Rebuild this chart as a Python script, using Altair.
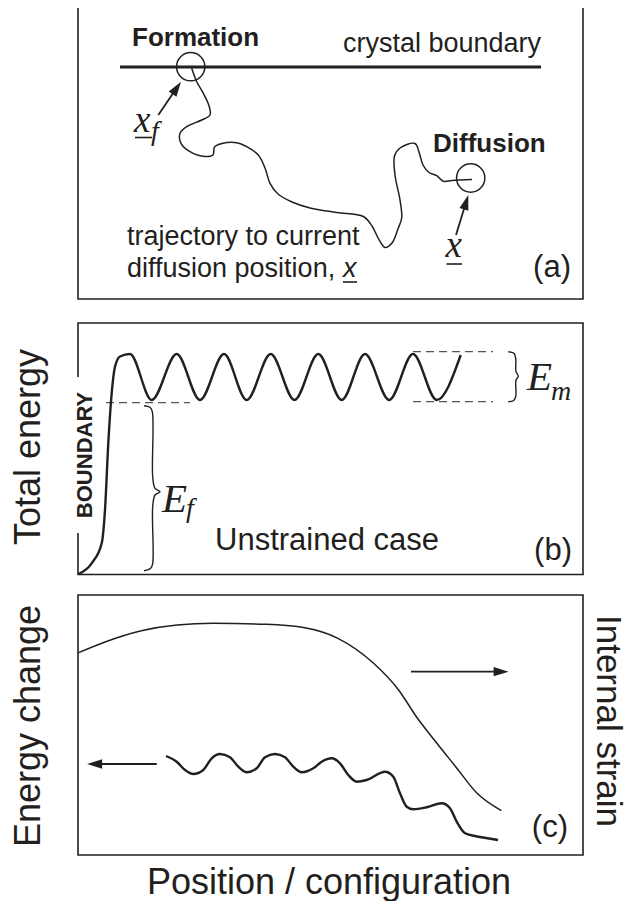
import math
import altair as alt
import pandas as pd

INK = "#231f20"

# ---------------- data (page-pixel coordinates) -------------
# panel frames (a), (b), (c)
box_x0 = [78, 78, 78]
box_x1 = [583, 583, 583]
box_y0 = [5.5, 323, 595]
box_y1 = [299, 574.5, 855]

# (a) crystal boundary line
bound_x = [120]
bound_x2 = [541]
bound_y = [67]

# (a) diffusion trajectory
traj_x = [191.7, 196.7, 203.3, 209.3, 210, 201.7, 186.7, 180, 181, 190, 205, 213, 214.5,
          222, 236.7, 246.7, 258.3, 265, 270, 278, 292, 310, 336.7, 363.3, 372, 378.3,
          385, 392, 398.3, 401.7, 400, 395, 394.5, 400, 415, 419.3, 423, 429, 436.7,
          443.3, 452, 472]
traj_y = [68.3, 81.7, 93.3, 106.7, 115, 120, 126.7, 133.3, 143.3, 151.7, 156.5, 155, 147,
          143.5, 142.7, 146.7, 155, 168, 183.3, 194, 202, 208, 212.5, 216.5, 226, 238.3,
          247.5, 243, 228, 218, 200, 175, 156, 148, 143.5, 153, 165, 172.5, 175.7,
          181.2, 180.5, 179.5]

# (a) circles at formation / diffusion sites
circ_x = [190.7, 470.7]
circ_y = [66.7, 178]

# arrows: (a) x_f, (a) x, (c) right, (c) left
arrow_tail_x = [158.3, 456, 411, 156.8]
arrow_tail_y = [115, 235, 671.7, 764]
arrow_tip_x = [181, 468.3, 508.6, 87.1]
arrow_tip_y = [81.7, 195, 671.7, 764]

# (b) total energy along the path
energy_x = [78.5, 91.7, 101.7, 105, 108.3, 111.7, 115, 120, 130, 151.7, 176.7, 200, 224,
            246.7, 270.7, 294.5, 318.3, 341.7, 365, 389.2, 413, 436.7, 460.7]
energy_y = [574, 563.3, 543.3, 510, 443, 393, 366.7, 356.5, 354, 400, 354, 400, 354,
            400, 354, 400, 354, 400, 354, 400, 354, 400, 355]

# (b) dashed reference levels
dash_x = [106, 413, 413]
dash_x2 = [190, 493, 493]
dash_y = [402.7, 351.7, 401.7]

# (b) braces  E_f and E_m
ef_brace_x = [144, 150, 152.3, 152.7, 155, 160, 155, 152.7, 152.7, 150.7, 144]
ef_brace_y = [405.7, 407.3, 411.7, 476.7, 488.3, 491.7, 495, 506.7, 563.3, 568.3, 570.7]
em_brace_x = [508.3, 514, 515.7, 516, 518.3, 516, 515.7, 513.3, 508.3]
em_brace_y = [351.7, 353.3, 358.3, 371.7, 376.3, 380, 396.7, 400.7, 401.7]

# (c) internal strain
strain_x = [78.5, 105.7, 141.4, 177.1, 212.9, 266.4, 302.1, 337.9, 373.6, 398.6, 416.4,
            434.3, 455.7, 477.1, 501.4]
strain_y = [652.7, 641.7, 630.7, 625, 623.3, 624.3, 627.3, 638.3, 663.3, 690, 716.7,
            740, 766.7, 793.3, 810.7]

# (c) energy change
change_x = [166, 176.7, 185, 193.3, 203.3, 211.7, 220, 230, 238.3, 246.7, 256.7, 265, 275,
            285, 293.3, 301.7, 313.3, 321.7, 331.7, 340, 348.3, 356.7, 366.7, 385, 393.3,
            400, 406.7, 413.3, 426.7, 441.7, 450, 456.7, 465, 475, 486, 498]
change_y = [756, 761.7, 770, 774, 770, 758.3, 754, 757.3, 766.7, 772.3, 768.3, 757.3, 754,
            757.3, 766.7, 772.3, 768.3, 761.7, 758.3, 763.3, 775, 781.7, 780, 771.7, 776.7,
            793.3, 806.7, 809.3, 807.3, 803.3, 808.3, 821.7, 833.3, 836, 838, 840]

# labels
sans_text = ["crystal boundary", "trajectory to current", "diffusion position, "]
sans_x = [343, 127, 127]
sans_y = [52, 245, 277]

bold_text = ["Formation", "Diffusion"]
bold_x = [132, 433]
bold_y = [46, 152]

panel_text = ["(a)", "(b)", "(c)"]
panel_x = [571, 572, 568]
panel_y = [277, 560, 837]

# ---------------- chart ----------------
XS = alt.Scale(domain=[8, 631], nice=False, zero=False)
YS = alt.Scale(domain=[8, 901], nice=False, zero=False, reverse=True)


def X(f="x"):
    return alt.X(f + ":Q", scale=XS, axis=None)


def Y(f="y"):
    return alt.Y(f + ":Q", scale=YS, axis=None)


layers = []

# frames
layers.append(
    alt.Chart(pd.DataFrame({"x": box_x0, "x2": box_x1, "y": box_y0, "y2": box_y1}))
    .mark_rect(filled=False, color=INK, strokeWidth=1.6)
    .encode(x=X(), x2="x2:Q", y=Y(), y2="y2:Q")
)

# white label patch of BOUNDARY
layers.append(
    alt.Chart(pd.DataFrame({"x": [73], "x2": [104.5], "y": [377], "y2": [533]}))
    .mark_rect(color="white")
    .encode(x=X(), x2="x2:Q", y=Y(), y2="y2:Q")
)

# crystal boundary
layers.append(
    alt.Chart(pd.DataFrame({"x": bound_x, "x2": bound_x2, "y": bound_y}))
    .mark_rule(color=INK, strokeWidth=2.8)
    .encode(x=X(), x2="x2:Q", y=Y())
)

# dashed levels
layers.append(
    alt.Chart(pd.DataFrame({"x": dash_x, "x2": dash_x2, "y": dash_y}))
    .mark_rule(color="#555555", strokeWidth=1.2, strokeDash=[8, 5])
    .encode(x=X(), x2="x2:Q", y=Y())
)

# trajectory
layers.append(
    alt.Chart(pd.DataFrame({"x": traj_x, "y": traj_y, "i": range(len(traj_x))}))
    .mark_line(color=INK, strokeWidth=1.5, interpolate="catmull-rom")
    .encode(x=X(), y=Y(), order="i:Q")
)

# energy curve (b)
layers.append(
    alt.Chart(pd.DataFrame({"x": energy_x, "y": energy_y}))
    .mark_line(color=INK, strokeWidth=2.4, interpolate="monotone")
    .encode(x=X(), y=Y())
)

# braces
for bx, by in [(ef_brace_x, ef_brace_y), (em_brace_x, em_brace_y)]:
    layers.append(
        alt.Chart(pd.DataFrame({"x": bx, "y": by, "i": range(len(bx))}))
        .mark_line(color=INK, strokeWidth=1.4, interpolate="catmull-rom")
        .encode(x=X(), y=Y(), order="i:Q")
    )

# strain and energy change (c)
layers.append(
    alt.Chart(pd.DataFrame({"x": strain_x, "y": strain_y}))
    .mark_line(color=INK, strokeWidth=1.5, interpolate="monotone")
    .encode(x=X(), y=Y())
)
layers.append(
    alt.Chart(pd.DataFrame({"x": change_x, "y": change_y}))
    .mark_line(color=INK, strokeWidth=2.4, interpolate="monotone")
    .encode(x=X(), y=Y())
)

# circles
layers.append(
    alt.Chart(pd.DataFrame({"x": circ_x, "y": circ_y}))
    .mark_point(shape="circle", filled=False, size=800, color=INK, strokeWidth=1.5, opacity=1)
    .encode(x=X(), y=Y())
)

# arrows: shafts and heads derived from tail/tip
HEAD = 15.0
shaft_rows, head_rows = [], []
for tx, ty, hx, hy in zip(arrow_tail_x, arrow_tail_y, arrow_tip_x, arrow_tip_y):
    dx, dy = hx - tx, hy - ty
    n = math.hypot(dx, dy)
    ux, uy = dx / n, dy / n
    shaft_rows.append({"x": tx, "y": ty, "x2": hx - ux * HEAD * 0.8, "y2": hy - uy * HEAD * 0.8})
    ang = math.degrees(math.atan2(dx, -dy)) % 360
    head_rows.append({"x": hx - ux * HEAD / 2, "y": hy - uy * HEAD / 2, "a": ang})

layers.append(
    alt.Chart(pd.DataFrame(shaft_rows))
    .mark_rule(color=INK, strokeWidth=1.8)
    .encode(x=X(), y=Y(), x2="x2:Q", y2="y2:Q")
)
layers.append(
    alt.Chart(pd.DataFrame(head_rows))
    .mark_point(shape="M0,-1L0.62,1L-0.62,1Z", filled=True, size=HEAD * HEAD,
                color=INK, opacity=1, strokeWidth=0)
    .encode(x=X(), y=Y(), angle=alt.Angle("a:Q", scale=None))
)

# underlines below the vector symbols
layers.append(
    alt.Chart(pd.DataFrame({"x": [135, 446.5, 343], "x2": [152, 462, 357],
                            "y": [137.5, 264, 282]}))
    .mark_rule(color=INK, strokeWidth=1.6)
    .encode(x=X(), x2="x2:Q", y=Y())
)


def text_layer(txt, xs, ys, **mk):
    df = pd.DataFrame({"x": xs, "y": ys, "t": txt})
    return alt.Chart(df).mark_text(color=INK, **mk).encode(x=X(), y=Y(), text="t:N")


layers.append(text_layer(sans_text, sans_x, sans_y, font="Liberation Sans", fontSize=27,
                         align="left", baseline="alphabetic"))
layers.append(text_layer(bold_text, bold_x, bold_y, font="Liberation Sans", fontSize=26,
                         fontWeight="bold", align="left", baseline="alphabetic"))
layers.append(text_layer(panel_text, panel_x, panel_y, font="Liberation Sans", fontSize=31,
                         align="right", baseline="alphabetic"))
layers.append(text_layer(["Unstrained case"], [215], [550], font="Liberation Sans",
                         fontSize=31, align="left", baseline="alphabetic"))
layers.append(text_layer(["x"], [343], [277], font="Liberation Sans", fontSize=27,
                         fontStyle="italic", align="left", baseline="alphabetic"))
layers.append(text_layer(["BOUNDARY"], [84.5], [455], font="Liberation Sans", fontSize=22,
                         fontWeight="bold", angle=270, align="center", baseline="middle"))

# math symbols
layers.append(text_layer(["x", "x"], [134, 445.5], [131.7, 256.7], font="Liberation Serif",
                         fontSize=37, fontStyle="italic", align="left", baseline="alphabetic"))
layers.append(text_layer(["E", "E"], [162, 527], [512, 390], font="Liberation Serif",
                         fontSize=41, fontStyle="italic", align="left", baseline="alphabetic"))
layers.append(text_layer(["f", "f", "m"], [151, 186, 551], [140, 517, 400],
                         font="Liberation Serif", fontSize=28, fontStyle="italic",
                         align="left", baseline="alphabetic"))

# axis-like titles
layers.append(text_layer(["Total energy", "Energy change"], [40, 40], [447, 726],
                         font="Liberation Sans", fontSize=36, angle=270, align="center",
                         baseline="alphabetic"))
layers.append(text_layer(["Internal strain"], [597], [721], font="Liberation Sans",
                         fontSize=35, angle=90, align="center", baseline="alphabetic"))
layers.append(text_layer(["Position / configuration"], [329], [894], font="Liberation Sans",
                         fontSize=36, align="center", baseline="alphabetic"))

chart = (
    alt.layer(*layers)
    .properties(width=623, height=893, padding=0, autosize=alt.AutoSizeParams(type="none"))
    .configure_view(stroke=None)
)

chart.save("out.html", embed_options={"renderer": "svg", "actions": False})
